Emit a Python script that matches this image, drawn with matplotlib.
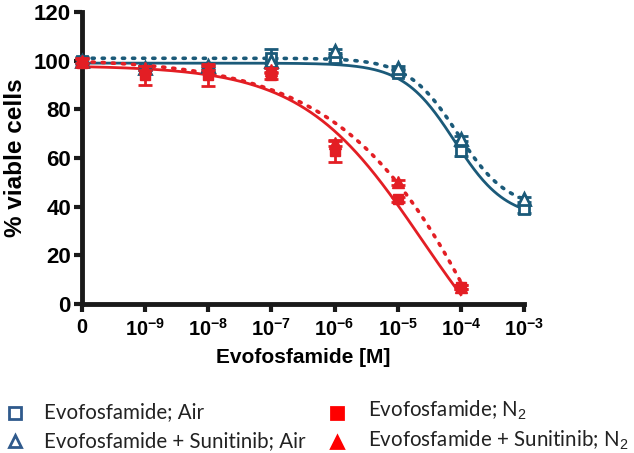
import numpy as np
import matplotlib
matplotlib.use("Agg")
import matplotlib.pyplot as plt
from matplotlib.lines import Line2D

plt.rcParams["mathtext.fontset"] = "custom"
plt.rcParams["mathtext.bf"] = "Liberation Sans:bold"
plt.rcParams["mathtext.rm"] = "Liberation Sans"
plt.rcParams["mathtext.it"] = "Liberation Sans:italic"

# ---- data (log10 concentration; -10 represents "0") ----
x_pos = [-10, -9, -8, -7, -6, -5, -4, -3]
x_labels = ["$\\mathbf{0}$", "$\\mathbf{10^{-9}}$", "$\\mathbf{10^{-8}}$", "$\\mathbf{10^{-7}}$",
            "$\\mathbf{10^{-6}}$", "$\\mathbf{10^{-5}}$", "$\\mathbf{10^{-4}}$", "$\\mathbf{10^{-3}}$"]
y_ticks = [0, 20, 40, 60, 80, 100, 120]

air_x = [-10, -9, -8, -7, -6, -5, -4, -3]
air_evo = [100, 97, 97, 101, 101, 95, 63, 39]
air_evo_err = [1.5, 1.0, 1.0, 4.0, 1.5, 1.5, 2.0, 1.5]
air_sun = [100, 97, 98, 100, 104, 97, 68, 43]
air_sun_err = [1.0, 1.0, 1.0, 1.0, 1.0, 1.0, 1.0, 1.0]

n2_x = [-10, -9, -8, -7, -6, -5, -4]
n2_evo = [99, 94, 94, 94, 63, 43, 7]
n2_evo_err = [1.5, 4.0, 4.5, 1.5, 4.5, 1.0, 1.0]
n2_sun = [100, 97, 97, 96, 66, 50, 7]
n2_sun_err = [1.0, 1.0, 1.0, 1.0, 1.0, 1.0, 1.0]

# 4-parameter logistic fit parameters: top, bottom, logIC50, hill
fit_air_evo = [99, 35, -4.10, 1.07]
fit_air_sun = [101, 39, -4.05, 1.10]
fit_n2_evo = [98, -45, -4.62, 0.46]
fit_n2_sun = [101, -200, -2.92, 0.33]

legend_labels = ["Evofosfamide; Air", "Evofosfamide + Sunitinib; Air",
                 "Evofosfamide; N$_2$", "Evofosfamide + Sunitinib; N$_2$"]

blue = "#1b5a79"
red = "#e31e24"
leg_blue = "#2f5a8c"
leg_red = "#ff0000"


def fourpl(x, p):
    top, bottom, lic, h = p
    return bottom + (top - bottom) / (1 + 10 ** ((x - lic) * h))


fig = plt.figure(figsize=(6.34, 4.53), dpi=100)
ax = fig.add_axes([82 / 634, (453 - 304) / 453, (524 - 82) / 634, (304 - 12) / 453])

xa = np.linspace(-10, -3, 400)
xn = np.linspace(-10, -4, 400)
ax.plot(xa, fourpl(xa, fit_air_evo), color=blue, lw=2.0, clip_on=False, zorder=3)
ax.plot(xa, fourpl(xa, fit_air_sun), color=blue, lw=2.6, ls=(0, (0.6, 2.2)),
        dash_capstyle="round", clip_on=False, zorder=3)
ax.plot(xn, fourpl(xn, fit_n2_evo), color=red, lw=2.0, clip_on=False, zorder=3)
ax.plot(xn, fourpl(xn, fit_n2_sun), color=red, lw=2.6, ls=(0, (0.6, 2.2)),
        dash_capstyle="round", clip_on=False, zorder=3)

ms = 7
ax.errorbar(air_x, air_evo, yerr=air_evo_err, fmt="s", color=blue, mfc="white", mew=2,
            ms=ms, capsize=5, elinewidth=2, capthick=2, clip_on=False, zorder=4)
ax.errorbar(air_x, air_sun, yerr=air_sun_err, fmt="^", color=blue, mfc="white", mew=2,
            ms=ms + 1, capsize=5, elinewidth=2, capthick=2, clip_on=False, zorder=4)
ax.errorbar(n2_x, n2_evo, yerr=n2_evo_err, fmt="s", color=red, ms=ms, capsize=5,
            elinewidth=2, capthick=2, clip_on=False, zorder=5)
ax.errorbar(n2_x, n2_sun, yerr=n2_sun_err, fmt="^", color=red, ms=ms + 1, capsize=5,
            elinewidth=2, capthick=2, clip_on=False, zorder=5)

ax.set_xlim(-10, -3)
ax.set_ylim(0, 120)
ax.set_xticks(x_pos)
ax.set_xticklabels(x_labels)
ax.set_yticks(y_ticks)
for s in ["top", "right"]:
    ax.spines[s].set_visible(False)
for s in ["left", "bottom"]:
    ax.spines[s].set_linewidth(3.5)
    ax.spines[s].set_color("#1a1a1a")
ax.tick_params(axis="both", width=3, length=6, direction="out", color="#1a1a1a")
for lbl in ax.get_yticklabels():
    lbl.set_fontsize(16)
    lbl.set_fontweight("bold")
    lbl.set_family("Liberation Sans")
for lbl in ax.get_xticklabels():
    lbl.set_fontsize(14.5)
ax.tick_params(axis="x", pad=4)
ax.tick_params(axis="y", pad=2)

ax.set_ylabel("% viable cells", fontsize=17.5, fontweight="bold", family="Liberation Sans",
              labelpad=5)
ax.set_xlabel("Evofosfamide [M]", fontsize=15, fontweight="bold", family="Liberation Sans",
              labelpad=6)

# ---- legend drawn below the axes ----
lf = dict(fontsize=14.8, family="Lato", va="baseline", ha="left", color="#222222")
text_pos = [(44, 418), (44, 447), (368, 417), (368, 447)]
for (tx, ty), lab in zip(text_pos, legend_labels):
    fig.text(tx / 634, 1 - ty / 453, lab, **lf)
for (mx, my, mk, c, fc) in [(15, 413, "s", leg_blue, "white"), (15, 441, "^", leg_blue, "white"),
                            (337, 413, "s", leg_red, leg_red), (337, 442, "^", leg_red, leg_red)]:
    fig.add_artist(Line2D([mx / 634], [1 - my / 453], marker=mk, color=c, mfc=fc, mew=2,
                          ms=8, transform=fig.transFigure, ls="none"))

fig.savefig("out.png", dpi=100)
